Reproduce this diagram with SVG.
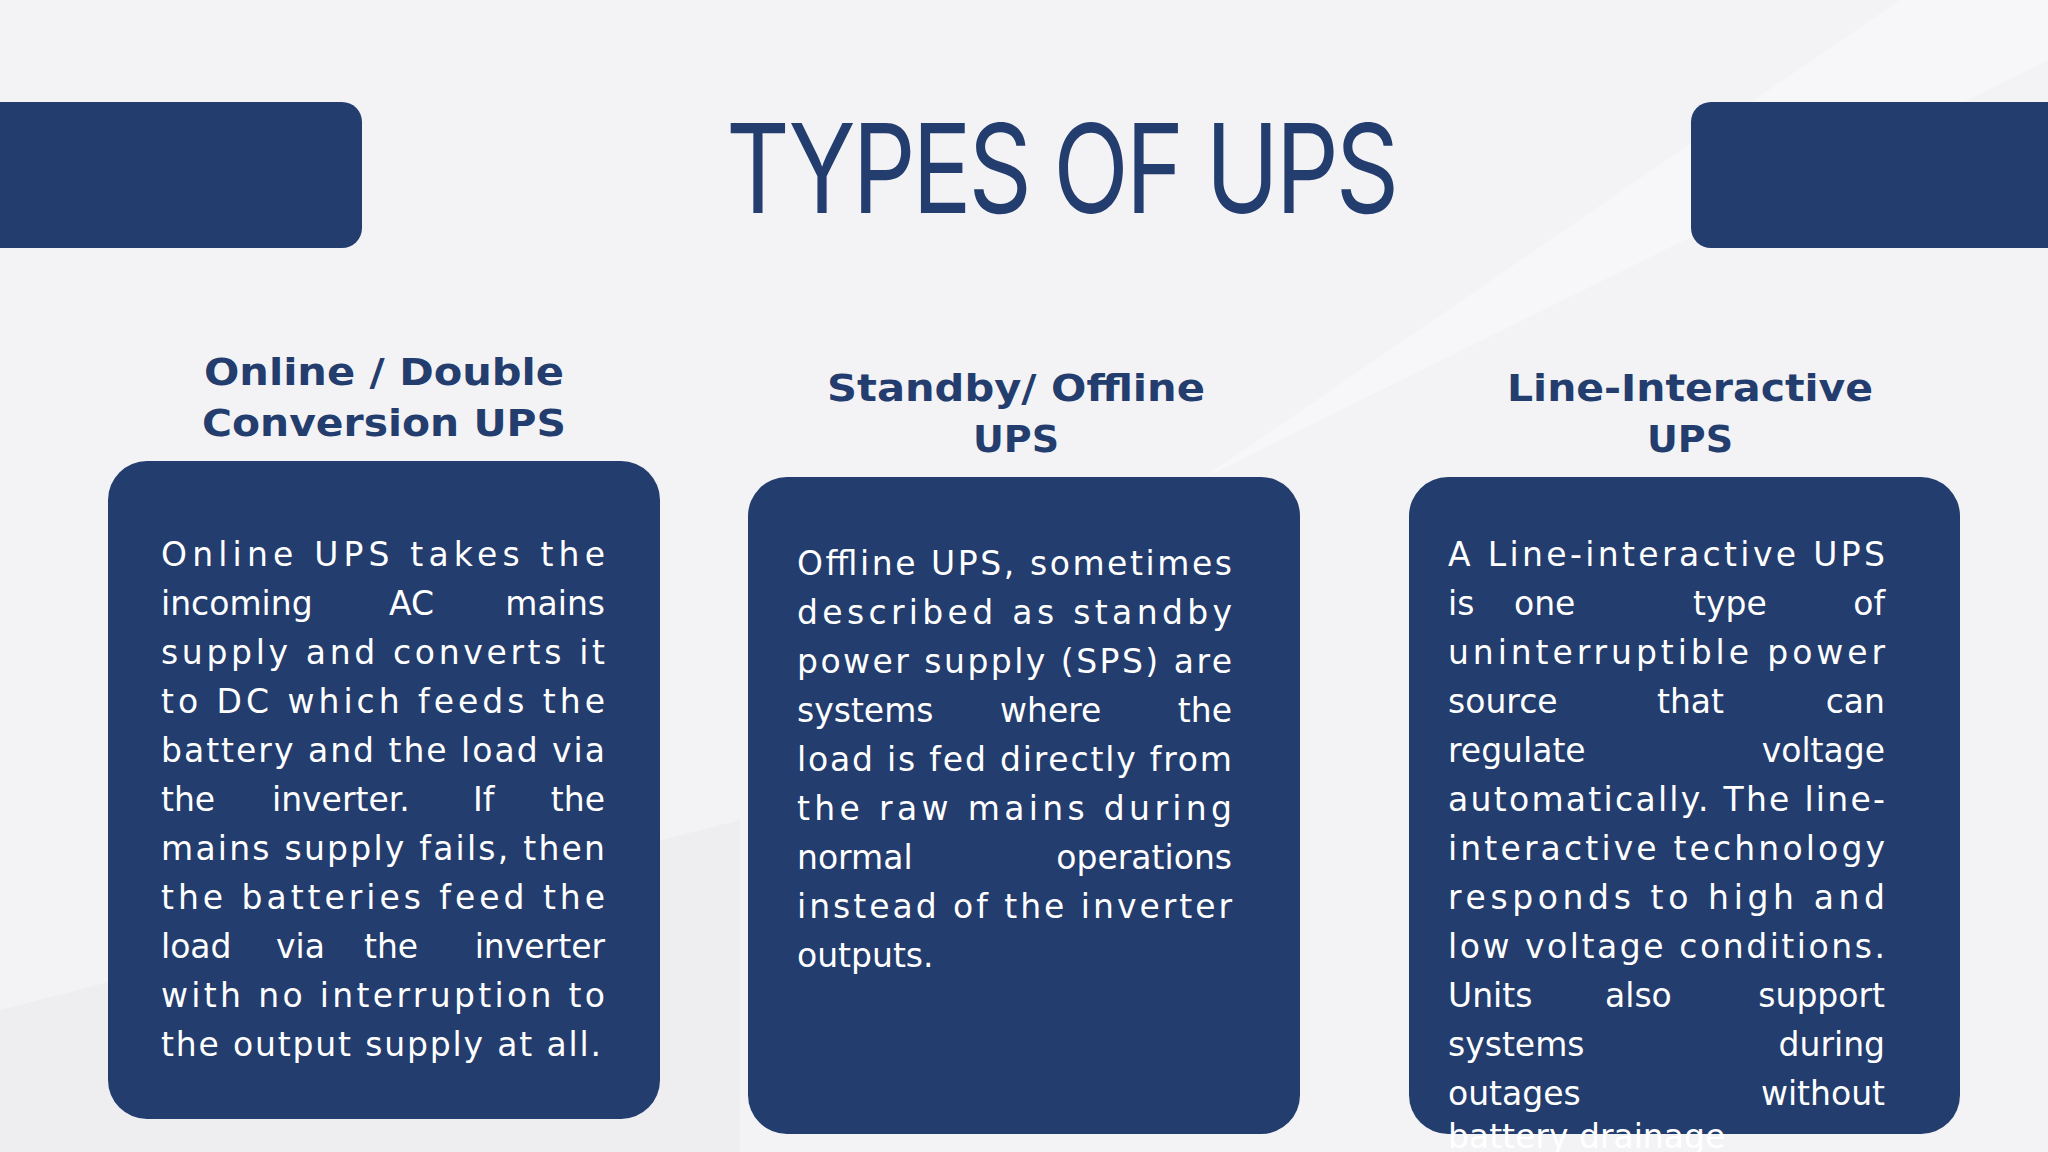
<svg xmlns="http://www.w3.org/2000/svg" width="2048" height="1152" viewBox="0 0 2048 1152">
<style>
.bar{fill:#233d6e}
.box{fill:#233d6e}
.h{font-family:"DejaVu Sans",sans-serif;font-weight:700;font-size:38px;fill:#233d6e;text-anchor:middle}
.t{font-family:"DejaVu Sans",sans-serif;font-size:33px;fill:#ffffff}
.e{text-anchor:end}
</style>
<rect width="2048" height="1152" fill="#f3f3f5"/>
<polygon points="1200,480 2048,60 2048,0 1900,0" fill="#f7f7f9"/>
<polygon points="0,1010 740,820 740,1152 0,1152" fill="#eeeef1"/>
<rect class="bar" x="-30" y="102" width="392" height="146" rx="20"/>
<rect class="bar" x="1691" y="102" width="400" height="146" rx="20"/>
<text x="1061" y="213" font-family="Inter,'Open Sans',sans-serif" font-size="124" fill="#233d6e" text-anchor="middle" textLength="670" lengthAdjust="spacingAndGlyphs" letter-spacing="-4">TYPES OF UPS</text>
<g id="node1">
<text class="h" x="384" y="385" textLength="360" lengthAdjust="spacingAndGlyphs">Online / Double</text>
<text class="h" x="384" y="436" textLength="364" lengthAdjust="spacingAndGlyphs">Conversion UPS</text>
<rect class="box" x="108" y="461" width="552" height="658" rx="39"/>
<g class="t">
<text x="161" y="566" textLength="444" lengthAdjust="spacing">Online UPS takes the</text>
<text x="161" y="615">incoming</text><text x="389" y="615">AC</text><text class="e" x="605" y="615">mains</text>
<text x="161" y="664" textLength="444" lengthAdjust="spacing">supply and converts it</text>
<text x="161" y="713" textLength="444" lengthAdjust="spacing">to DC which feeds the</text>
<text x="161" y="762" textLength="444" lengthAdjust="spacing">battery and the load via</text>
<text x="161" y="811">the</text><text x="272" y="811">inverter.</text><text x="473" y="811">If</text><text class="e" x="605" y="811">the</text>
<text x="161" y="860" textLength="444" lengthAdjust="spacing">mains supply fails, then</text>
<text x="161" y="909" textLength="444" lengthAdjust="spacing">the batteries feed the</text>
<text x="161" y="958">load</text><text x="276" y="958">via</text><text x="364" y="958">the</text><text class="e" x="605" y="958">inverter</text>
<text x="161" y="1007" textLength="444" lengthAdjust="spacing">with no interruption to</text>
<text x="161" y="1056" textLength="440" lengthAdjust="spacing">the output supply at all.</text>
</g>
</g>
<g id="node2">
<text class="h" x="1016" y="401" textLength="378" lengthAdjust="spacingAndGlyphs">Standby/ Offline</text>
<text class="h" x="1016" y="452">UPS</text>
<rect class="box" x="748" y="477" width="552" height="657" rx="39"/>
<g class="t">
<text x="797" y="575" textLength="435" lengthAdjust="spacing">Offline UPS, sometimes</text>
<text x="797" y="624" textLength="435" lengthAdjust="spacing">described as standby</text>
<text x="797" y="673" textLength="435" lengthAdjust="spacing">power supply (SPS) are</text>
<text x="797" y="722">systems</text><text x="1000" y="722">where</text><text class="e" x="1232" y="722">the</text>
<text x="797" y="771" textLength="435" lengthAdjust="spacing">load is fed directly from</text>
<text x="797" y="820" textLength="435" lengthAdjust="spacing">the raw mains during</text>
<text x="797" y="869">normal</text><text class="e" x="1232" y="869">operations</text>
<text x="797" y="918" textLength="435" lengthAdjust="spacing">instead of the inverter</text>
<text x="797" y="967">outputs.</text>
</g>
</g>
<g id="node3">
<text class="h" x="1690" y="401" textLength="366" lengthAdjust="spacingAndGlyphs">Line-Interactive</text>
<text class="h" x="1690" y="452">UPS</text>
<rect class="box" x="1409" y="477" width="551" height="657" rx="39"/>
<g class="t">
<text x="1448" y="566" textLength="437" lengthAdjust="spacing">A Line-interactive UPS</text>
<text x="1448" y="615">is</text><text x="1514" y="615">one</text><text x="1693" y="615">type</text><text class="e" x="1885" y="615">of</text>
<text x="1448" y="664" textLength="437" lengthAdjust="spacing">uninterruptible power</text>
<text x="1448" y="713">source</text><text x="1657" y="713">that</text><text class="e" x="1885" y="713">can</text>
<text x="1448" y="762">regulate</text><text class="e" x="1885" y="762">voltage</text>
<text x="1448" y="811" textLength="437" lengthAdjust="spacing">automatically. The line-</text>
<text x="1448" y="860" textLength="437" lengthAdjust="spacing">interactive technology</text>
<text x="1448" y="909" textLength="437" lengthAdjust="spacing">responds to high and</text>
<text x="1448" y="958" textLength="437" lengthAdjust="spacing">low voltage conditions.</text>
<text x="1448" y="1007">Units</text><text x="1605" y="1007">also</text><text class="e" x="1885" y="1007">support</text>
<text x="1448" y="1056">systems</text><text class="e" x="1885" y="1056">during</text>
<text x="1448" y="1105">outages</text><text class="e" x="1885" y="1105">without</text>
<text x="1448" y="1148">battery drainage</text>
</g>
</g>
<g id="connectors"/>
</svg>
